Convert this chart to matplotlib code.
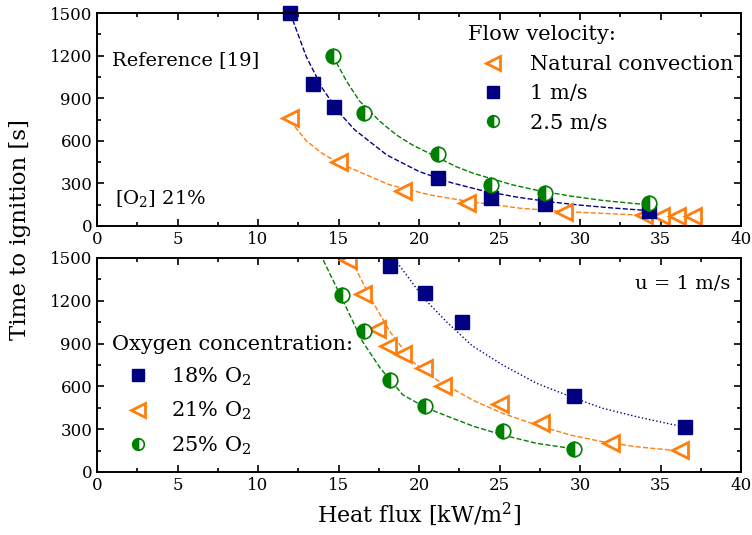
import matplotlib
matplotlib.use("Agg")
import matplotlib.pyplot as plt
from matplotlib.ticker import MultipleLocator

plt.rcParams["font.family"] = ["DejaVu Serif"]
plt.rcParams["mathtext.fontset"] = "dejavuserif"

NAVY = "#000080"
ORANGE = "#ff7f0e"
GREEN = "#008000"

# ---- top panel: flow velocity (Reference [19]) ----
nat_q = [12.0, 15.0, 19.0, 23.0, 29.0, 34.0, 35.0, 36.0, 37.0]
nat_t = [760, 450, 246, 162, 98, 75, 68, 70, 72]
u1_q = [12.0, 13.4, 14.7, 21.2, 24.5, 27.8, 34.3]
u1_t = [1500, 1000, 838, 338, 197, 155, 106]
u25_q = [14.65, 16.6, 21.2, 24.5, 27.8, 34.3]
u25_t = [1197, 795, 507, 289, 232, 162]

# fitted curves
nat_fit_q = [12.0, 13.0, 14.0, 15.0, 16.5, 18.2, 20.7, 23.2, 26.3, 29.0, 31.4, 33.5, 35.5, 37.0]
nat_fit_t = [740, 600, 510, 445, 371, 289, 218, 171, 125, 102, 89, 78, 70, 65]
u1_fit_q = [12.0, 13.0, 14.0, 15.0, 16.0, 18.0, 20.0, 22.0, 24.0, 26.0, 28.0, 30.0, 32.0, 34.3]
u1_fit_t = [1500, 1192, 969, 804, 678, 500, 384, 305, 247, 205, 172, 147, 127, 108]
u25_fit_q = [14.65, 15.5, 16.3, 17.6, 18.6, 19.6, 21.2, 22.3, 23.4, 25.8, 27.3, 29.4, 31.4, 33.5, 34.4]
u25_fit_t = [1197, 1020, 880, 734, 641, 570, 480, 418, 370, 290, 252, 211, 180, 157, 150]

# ---- bottom panel: oxygen concentration, u = 1 m/s ----
o18_q = [18.2, 20.4, 22.7, 29.6, 36.5]
o18_t = [1444, 1255, 1051, 533, 315]
o21_q = [15.6, 16.5, 17.4, 18.1, 19.0, 20.3, 21.5, 25.0, 27.6, 31.9, 36.2]
o21_t = [1486, 1248, 1002, 883, 827, 729, 603, 477, 343, 203, 154]
o25_q = [15.2, 16.6, 18.2, 20.4, 25.2, 29.6]
o25_t = [1241, 988, 645, 463, 287, 161]

o18_fit_q = [18.5, 20.3, 21.7, 23.3, 25.2, 27.3, 29.6, 31.4, 33.5, 35.6, 36.5]
o18_fit_t = [1490, 1218, 1054, 885, 750, 622, 520, 447, 388, 336, 318]
o21_fit_q = [15.8, 17.0, 18.2, 19.6, 21.1, 23.4, 25.2, 27.3, 29.4, 31.4, 33.5, 35.6, 36.2]
o21_fit_t = [1486, 1218, 983, 773, 645, 500, 411, 329, 259, 212, 177, 154, 150]
o25_fit_q = [14.05, 14.9, 15.9, 16.5, 17.6, 19.0, 20.5, 22.1, 23.4, 25.2, 27.3, 29.6]
o25_fit_t = [1486, 1288, 1054, 913, 727, 540, 447, 376, 320, 259, 201, 163]

tri = dict(marker="<", ls="none", ms=12, mfc="white", mec=ORANGE, mew=2)
sq = dict(marker="s", ls="none", ms=10, color=NAVY)
circ = dict(marker="o", ls="none", ms=10.5, color=GREEN, fillstyle="left",
            mfc=GREEN, mfcalt="white", mec=GREEN, mew=1.2)

fig = plt.figure(figsize=(7.52, 5.35), dpi=100)
ax1 = fig.add_axes([97 / 752, 1 - 226 / 535, 644 / 752, 213 / 535])
ax2 = fig.add_axes([97 / 752, 1 - 472 / 535, 644 / 752, 214 / 535])

for ax in (ax1, ax2):
    ax.set_xlim(0, 40)
    ax.set_ylim(0, 1500)
    ax.xaxis.set_major_locator(MultipleLocator(5))
    ax.xaxis.set_minor_locator(MultipleLocator(2.5))
    ax.yaxis.set_major_locator(MultipleLocator(300))
    ax.yaxis.set_minor_locator(MultipleLocator(150))
    ax.tick_params(which="both", direction="in", top=True, right=True,
                   labelsize=12, width=1.2)
    ax.tick_params(which="major", length=5)
    ax.tick_params(which="minor", length=3)
    for s in ax.spines.values():
        s.set_linewidth(1.4)

# top panel
ax1.plot(nat_fit_q, nat_fit_t, "--", color=ORANGE, lw=1)
ax1.plot(u1_fit_q, u1_fit_t, "--", color=NAVY, lw=1)
ax1.plot(u25_fit_q, u25_fit_t, "--", color=GREEN, lw=1)
h1, = ax1.plot(nat_q, nat_t, **tri, label="Natural convection")
h2, = ax1.plot(u1_q, u1_t, **sq, label="1 m/s")
h3, = ax1.plot(u25_q, u25_t, **circ, label="2.5 m/s")
for h in (h1, h2, h3):
    h.set_clip_on(False)
leg1 = ax1.legend(handles=[h1, h2, h3], title="Flow velocity:", loc="upper left",
                  bbox_to_anchor=(0.554, 1.01), frameon=False, fontsize=15,
                  title_fontsize=15, markerscale=0.8, handlelength=2.4,
                  handletextpad=0.55, labelspacing=0.5, borderpad=0.2)
leg1._legend_box.align = "left"
ax1.text(0.023, 0.78, "Reference [19]", transform=ax1.transAxes, fontsize=14,
         va="center", ha="left")
ax1.text(0.028, 0.13, "[O$_2$] 21%", transform=ax1.transAxes, fontsize=14,
         va="center", ha="left")

# bottom panel
ax2.plot(o18_fit_q, o18_fit_t, ":", color=NAVY, lw=1)
ax2.plot(o21_fit_q, o21_fit_t, "--", color=ORANGE, lw=1)
ax2.plot(o25_fit_q, o25_fit_t, "--", color=GREEN, lw=1)
g1, = ax2.plot(o18_q, o18_t, **sq, label="18% O$_2$")
g2, = ax2.plot(o21_q, o21_t, **tri, label="21% O$_2$")
g3, = ax2.plot(o25_q, o25_t, **circ, label="25% O$_2$")
leg2 = ax2.legend(handles=[g1, g2, g3], title="Oxygen concentration:", loc="upper left",
                  bbox_to_anchor=(0.0, 0.71), frameon=False, fontsize=15,
                  title_fontsize=15, markerscale=0.8, handlelength=2.5,
                  handletextpad=0.35, labelspacing=0.58, borderpad=0.2)
leg2._legend_box.align = "left"
ax2.text(0.984, 0.883, "u = 1 m/s", transform=ax2.transAxes, fontsize=14,
         va="center", ha="right")

ax2.set_xlabel("Heat flux [kW/m$^2$]", fontsize=16, labelpad=5)
fig.text(20 / 752, 1 - 229 / 535, "Time to ignition [s]", rotation=90,
         fontsize=16.5, va="center", ha="center")

fig.savefig("out.png", dpi=100)
